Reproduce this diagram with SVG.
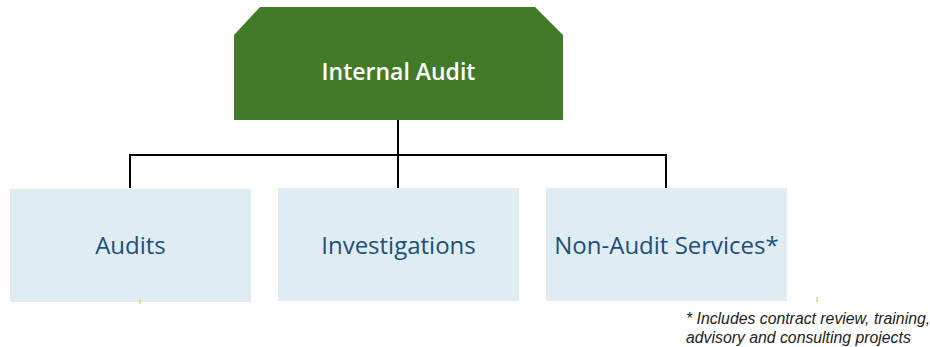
<svg xmlns="http://www.w3.org/2000/svg" width="930" height="347" viewBox="0 0 930 347">
  <style>
    .unit { fill: #dfedf3; }
    .unit-label { font-family: "Open Sans", Lato, sans-serif; font-size: 24px; fill: #1d4f7c; text-anchor: middle; }
    .head-label { font-family: "Open Sans", Lato, sans-serif; font-size: 23px; font-weight: 600; fill: #ffffff; text-anchor: middle; }
    .wire { fill: none; stroke: #000000; stroke-width: 2; }
    .tick { stroke: #c8dc8c; stroke-width: 1.5; }
    .note { font-family: "Liberation Sans", Arial, sans-serif; font-size: 15.8px; font-style: italic; fill: #222222; }
  </style>

  <!-- connectors -->
  <g id="connectors">
    <path class="wire" d="M398 120 V155 M130 188 V155 H666 V188 M398 155 V188"/>
  </g>

  <!-- top node -->
  <g id="internal-audit">
    <polygon points="260,7 535,7 563,35 563,120 234,120 234,35" fill="#437a27"/>
    <text class="head-label" x="398.5" y="80">Internal Audit</text>
  </g>

  <g id="audits">
    <rect class="unit" x="10" y="189" width="241" height="113"/>
    <text class="unit-label" x="130.5" y="254">Audits</text>
  </g>

  <g id="investigations">
    <rect class="unit" x="278" y="188" width="241" height="113"/>
    <text class="unit-label" x="398.5" y="254">Investigations</text>
  </g>

  <g id="non-audit-services">
    <rect class="unit" x="546" y="188" width="241" height="113"/>
    <text class="unit-label" x="666.5" y="254">Non-Audit Services*</text>
  </g>

  <!-- small marks under the boxes -->
  <line class="tick" x1="140" y1="299" x2="140" y2="304"/>
  <line class="tick" x1="817" y1="297" x2="817" y2="302"/>

  <!-- footnote -->
  <text class="note" x="686" y="324">* Includes contract review, training,</text>
  <text class="note" x="686" y="343">advisory and consulting projects</text>
</svg>
